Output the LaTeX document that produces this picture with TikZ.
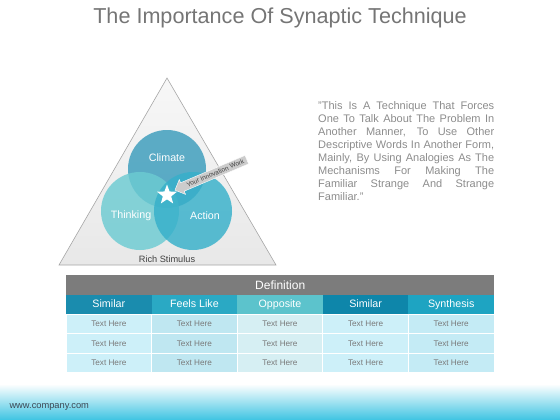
\documentclass[tikz,border=0pt]{standalone}
\usepackage{fontspec}
\setmainfont{Liberation Sans}
\usetikzlibrary{shapes.geometric, shapes.arrows, positioning}
\hyphenpenalty=10000
\exhyphenpenalty=10000
\definecolor{climate}{HTML}{3A9CBC}
\definecolor{thinking}{HTML}{6CCBD2}
\definecolor{action}{HTML}{36B0CA}
\definecolor{hA}{HTML}{1A8CAE}
\definecolor{hB}{HTML}{2AA9C4}
\definecolor{hC}{HTML}{5CC3CC}
\definecolor{hD}{HTML}{0E86AA}
\definecolor{hE}{HTML}{1EA4C2}
\definecolor{dA}{HTML}{CDF0F9}
\definecolor{dB}{HTML}{BFE7F1}
\definecolor{dC}{HTML}{D6EFF3}
\definecolor{dD}{HTML}{CDF0F9}
\definecolor{dE}{HTML}{C4EBF5}
\definecolor{greytext}{HTML}{7A7A7A}
\definecolor{footcyan}{HTML}{3EC4E2}
\tikzset{
  venn/.style={circle, minimum size=78pt, inner sep=0pt, fill opacity=0.82},
  vlabel/.style={text=white, font=\fontsize{10.7}{12}\selectfont},
  head/.style={minimum width=85.6pt, minimum height=19pt, inner sep=0pt, outer sep=0pt,
    text height=1.6ex, text depth=.3ex, text=white, font=\fontsize{10.7}{12}\selectfont},
  cell/.style={minimum width=85.6pt, minimum height=19.5pt, inner sep=0pt, outer sep=0pt,
    draw=white, line width=0.8pt, text=greytext, font=\fontsize{8.2}{10}\selectfont}
}
\begin{document}
\begin{tikzpicture}[x=1pt, y=-1pt]
  \useasboundingbox (0,0) rectangle (560,420);
  % footer band
  \shade[top color=white, bottom color=footcyan] (0,384) rectangle (560,420);
  \node[anchor=west, text={rgb,255:red,60;green,72;blue,84}, font=\fontsize{9.3}{11}\selectfont] (web) at (6,407) {www.company.com};

  % title
  \node[text={rgb,255:red,117;green,117;blue,117}, font=\fontsize{21.6}{26}\selectfont] (title) at (280,18) {The Importance Of Synaptic Technique};

  % triangle
  \coordinate (top) at (167,78);
  \coordinate (bl) at (59,265);
  \coordinate (br) at (276,265);
  \shade[top color=gray!6, bottom color=gray!18] (top) -- (br) -- (bl) -- cycle;
  \draw[gray!70, line width=0.6pt] (top) -- (br) -- (bl) -- cycle;

  % circles
  \node[venn, fill=climate] (climate) at (167,169) {};
  \node[venn, fill=thinking] (thinking) at (140,211) {};
  \node[venn, fill=action] (action) at (193,211) {};
  \node[vlabel] at ([yshift=11pt]climate) {Climate};
  \node[vlabel] at ([xshift=-9pt, yshift=-5pt]thinking) {Thinking};
  \node[vlabel] at ([xshift=12pt, yshift=-5pt]action) {Action};
  \node[star, star points=5, star point ratio=2.4, fill=white, minimum size=21pt, inner sep=0pt] (star) at (167,195) {};

  % pointer
  \node[single arrow, shape border rotate=180, rotate=23, fill=gray!40, draw=white, line width=0.4pt,
    minimum height=78pt, inner xsep=1pt, inner ysep=2pt, single arrow head extend=3.5pt,
    text=darkgray, font=\fontsize{6.5}{7}\selectfont] (pointer) at (213,174) {\hspace*{5pt}Your Innovation Work};

  \node[text=darkgray, font=\fontsize{9.2}{11}\selectfont] (rich) at (167,259) {Rich Stimulus};

  % quote
  \node[anchor=north west, inner sep=0pt, text width=176pt, align=justify, text={rgb,255:red,140;green,140;blue,140},
    font=\fontsize{11}{13}\selectfont] (quote) at (318,101)
    {"This Is A Technique That Forces\linebreak One To Talk About The Problem In\linebreak Another Manner, To Use Other\linebreak Descriptive Words In Another Form,\linebreak Mainly, By Using Analogies As The\linebreak Mechanisms For Making The\linebreak Familiar Strange And Strange\linebreak Familiar."};

  % table
  \node[anchor=north west, minimum width=428pt, minimum height=20pt, inner sep=0pt, fill={rgb,255:red,124;green,124;blue,124},
    text=white, font=\fontsize{12}{14}\selectfont] (def) at (66,275) {Definition};
  \foreach \lbl/\hc/\dc [count=\i] in {Similar/hA/dA, Feels Like/hB/dB, Opposite/hC/dC, Similar/hD/dD, Synthesis/hE/dE} {
    \node[head, fill=\hc, anchor=north west] (h\i) at ({66+(\i-1)*85.6},295) {\lbl};
    \node[cell, fill=\dc, below=0pt of h\i] (c\i-1) {Text Here};
    \node[cell, fill=\dc, below=0pt of c\i-1] (c\i-2) {Text Here};
    \node[cell, fill=\dc, below=0pt of c\i-2] (c\i-3) {Text Here};
  }
\end{tikzpicture}
\end{document}
